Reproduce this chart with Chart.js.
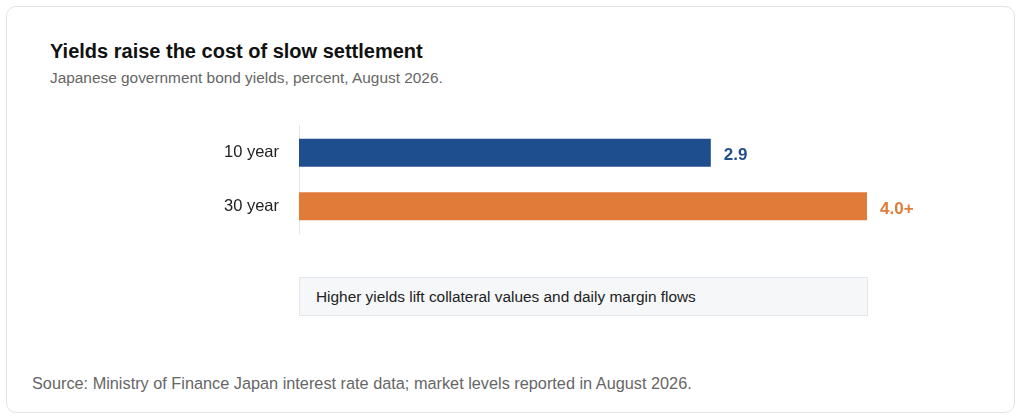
<!DOCTYPE html>
<html><head><meta charset="utf-8">
<script src="https://cdn.jsdelivr.net/npm/chart.js@4"></script>
<style>
body{margin:0;background:#fff;font-family:"Liberation Sans",Arial,sans-serif;}
#card{position:absolute;left:6px;top:6px;width:1009px;height:407px;border:1px solid #e3e3e3;border-radius:10px;box-sizing:border-box;}
#title{position:absolute;left:50px;top:40px;font-size:20px;font-weight:bold;color:#111;}
#sub{position:absolute;left:50px;top:69px;font-size:15.4px;color:#666;}
#c{position:absolute;left:0;top:104px;}
#note{position:absolute;left:299px;top:277px;width:569px;height:39px;box-sizing:border-box;background:#f5f7f9;border:1px solid #e2e6ea;font-size:15.4px;color:#222;padding:10px 0 0 16px;}
#src{position:absolute;left:32px;top:374px;font-size:16.3px;color:#666;}
</style></head><body>
<div id="card"></div>
<div id="title">Yields raise the cost of slow settlement</div>
<div id="sub">Japanese government bond yields, percent, August 2026.</div>
<canvas id="c" width="1024" height="151" style="width:1024px;height:151px"></canvas>
<div id="note">Higher yields lift collateral values and daily margin flows</div>
<div id="src">Source: Ministry of Finance Japan interest rate data; market levels reported in August 2026.</div>
<script>
const categories=["10 year","30 year"];
const values=[2.9,4.0];
const valueLabels=["2.9","4.0+"];
const colors=["#1f4e8f","#e07b3a"];
const labelPlugin={id:"vl",afterDatasetsDraw(ch){const ctx=ch.ctx;const meta=ch.getDatasetMeta(0);
ctx.save();ctx.font="bold 17px 'Liberation Sans',Arial,sans-serif";ctx.textBaseline="middle";
meta.data.forEach((b,i)=>{ctx.fillStyle=colors[i];ctx.fillText(valueLabels[i],b.x+13,b.y+3);});ctx.restore();}};
new Chart(document.getElementById("c"),{type:"bar",
data:{labels:categories,datasets:[{data:values,backgroundColor:colors,barPercentage:0.52,categoryPercentage:1}]},
options:{indexAxis:"y",responsive:false,animation:false,devicePixelRatio:1,
layout:{padding:{left:0,right:157,top:0,bottom:0}},
plugins:{legend:{display:false},tooltip:{enabled:false}},
scales:{x:{display:false,min:0,max:4.0},
y:{afterFit(s){s.width=299;},grid:{display:false},border:{display:true,color:"#e5e5e5"},
ticks:{color:"#222",padding:12,font:{size:16.5,family:"'Liberation Sans',Arial,sans-serif"}}}}},
plugins:[labelPlugin]});
</script></body></html>
